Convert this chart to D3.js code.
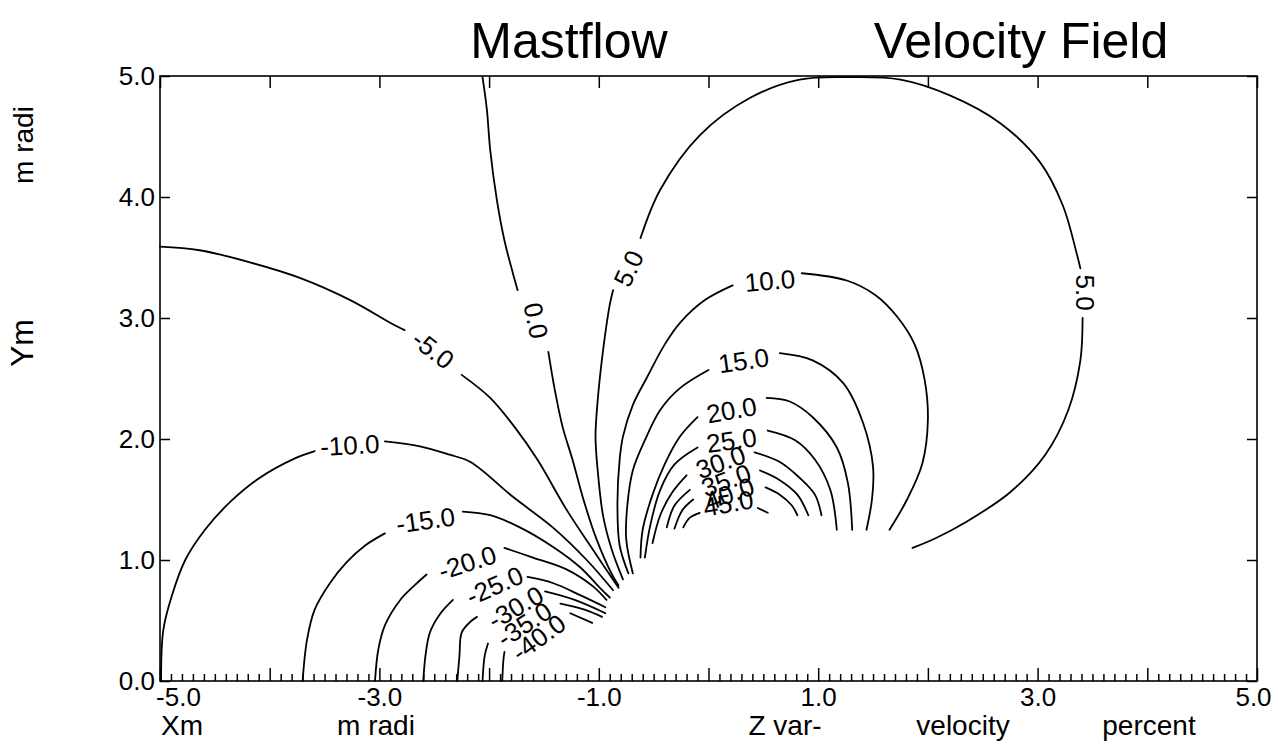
<!DOCTYPE html>
<html><head><meta charset="utf-8">
<script src="https://cdn.jsdelivr.net/npm/d3@7"></script>
<style>
html,body{margin:0;padding:0;background:#fff;}
svg{display:block;}
text{font-family:"Liberation Sans",Arial,Helvetica,sans-serif;fill:#000;}
</style>
</head><body>
<svg id="chart" width="1278" height="744"></svg>
<script>
// ---------- data ----------
const xTicks = [-5,-4,-3,-2,-1,0,1,2,3,4,5];
const xTickLabels = [-5,-3,-1,1,3,5];
const yTicks = [0,1,2,3,4,5];
const titleLeft = "Mastflow";
const titleRight = "Velocity Field";
const xTitles = ["Xm","m radi","Z var-","velocity","percent"];
const yTitles = ["m radi","Ym"];
const levels = [-40,-35,-30,-25,-20,-15,-10,-5,0,5,10,15,20,25,30,35,40,45];

// each contour: list of pieces (broken where labels sit), points in [Xm, Ym]
const contourM40 = [[[-1.88,0],[-1.87,0.17],[-1.86,0.24]],
                    [[-1.26,0.56],[-1.06,0.48]]];
const contourM35 = [[[-2.06,0],[-2.04,0.21],[-2.01,0.31]],
                    [[-1.35,0.64],[-1.13,0.59],[-0.97,0.53]]];
const contourM30 = [[[-2.29,0],[-2.27,0.21],[-2.25,0.40],[-2.17,0.49],[-2.11,0.53]],
                    [[-1.49,0.74],[-1.22,0.67],[-0.94,0.56]]];
const contourM25 = [[[-2.60,0],[-2.58,0.21],[-2.54,0.40],[-2.45,0.55],[-2.33,0.67]],
                    [[-1.65,0.86],[-1.42,0.81],[-1.17,0.71],[-0.94,0.61]]];
const contourM20 = [[[-3.04,0],[-3.01,0.26],[-2.95,0.46],[-2.81,0.67],[-2.68,0.79],[-2.57,0.88]],
                    [[-1.86,1.10],[-1.60,1.02],[-1.29,0.92],[-1.05,0.78],[-0.93,0.67]]];
const contourM15 = [[[-3.70,0],[-3.66,0.34],[-3.59,0.59],[-3.45,0.81],[-3.30,0.98],[-3.13,1.12],[-2.95,1.22]],
                    [[-2.24,1.40],[-1.99,1.37],[-1.72,1.27],[-1.42,1.11],[-1.17,0.94],[-0.99,0.77],[-0.90,0.69]]];
const contourM10 = [[[-4.99,0],[-4.97,0.42],[-4.89,0.71],[-4.77,1.00],[-4.59,1.25],[-4.36,1.48],[-4.09,1.68],[-3.77,1.84],[-3.59,1.90]],
                    [[-2.95,1.98],[-2.63,1.94],[-2.36,1.87],[-2.17,1.81],[-1.78,1.52],[-1.42,1.27],[-1.11,1.00],[-0.87,0.75]]];
const contourM5  = [[[-5.0,3.59],[-4.64,3.56],[-4.18,3.46],[-3.72,3.33],[-3.27,3.15],[-2.86,2.94],[-2.77,2.90]],
                    [[-2.25,2.53],[-1.99,2.34],[-1.76,2.09],[-1.56,1.83],[-1.29,1.41],[-1.05,1.08],[-0.82,0.77]]];
const contour0   = [[[-2.06,4.99],[-2.02,4.72],[-1.99,4.39],[-1.93,3.98],[-1.86,3.64],[-1.78,3.36],[-1.74,3.23]],
                    [[-1.46,2.72],[-1.40,2.40],[-1.33,2.10],[-1.24,1.83],[-1.14,1.50],[-1.02,1.17],[-0.88,0.88],[-0.82,0.79]]];
const contour5   = [[[-0.78,0.84],[-0.88,1.08],[-0.96,1.36],[-1.01,1.74],[-1.03,2.02],[-1.01,2.32],[-0.96,2.74],[-0.90,3.11],[-0.87,3.23]],
                    [[-0.62,3.66],[-0.44,4.06],[-0.08,4.51],[0.38,4.82],[0.83,4.97],[1.29,4.99],[1.75,4.97],[2.20,4.84],[2.66,4.61],[3.02,4.29],[3.23,3.93],[3.36,3.52],[3.39,3.41]],
                    [[3.41,3.00],[3.39,2.65],[3.28,2.24],[3.07,1.87],[2.75,1.56],[2.34,1.31],[2.07,1.18],[1.86,1.10]]];
const contour10  = [[[-0.73,0.89],[-0.81,1.12],[-0.83,1.47],[-0.81,1.83],[-0.78,2.02],[-0.69,2.28],[-0.56,2.51],[-0.40,2.78],[-0.26,2.96],[-0.03,3.15],[0.22,3.27]],
                    [[0.85,3.37],[1.26,3.31],[1.52,3.19],[1.72,3.01],[1.88,2.78],[1.97,2.49],[2.00,2.16],[1.95,1.80],[1.81,1.50],[1.65,1.25]]];
const contour15  = [[[-0.69,0.89],[-0.75,1.17],[-0.74,1.45],[-0.69,1.74],[-0.58,1.99],[-0.44,2.24],[-0.26,2.42],[0.00,2.57]],
                    [[0.65,2.71],[0.95,2.65],[1.23,2.46],[1.41,2.13],[1.50,1.77],[1.49,1.50],[1.44,1.25]]];
const contour20  = [[[-0.62,1.02],[-0.60,1.25],[-0.51,1.54],[-0.40,1.79],[-0.26,2.02],[-0.10,2.18]],
                    [[0.53,2.34],[0.74,2.31],[0.95,2.18],[1.17,1.93],[1.27,1.64],[1.31,1.25]]];
const contour25  = [[[-0.58,1.02],[-0.53,1.29],[-0.44,1.58],[-0.31,1.79],[-0.10,1.93]],
                    [[0.54,2.07],[0.79,1.99],[0.97,1.83],[1.11,1.58],[1.17,1.25]]];
const contour30  = [[[-0.51,1.14],[-0.44,1.37],[-0.33,1.56],[-0.20,1.70]],
                    [[0.42,1.89],[0.65,1.81],[0.83,1.68],[0.97,1.54],[1.03,1.37]]];
const contour35  = [[[-0.38,1.27],[-0.31,1.45],[-0.17,1.58]],
                    [[0.47,1.74],[0.65,1.66],[0.81,1.54],[0.91,1.37]]];
const contour40  = [[[-0.31,1.26],[-0.24,1.41],[-0.14,1.50]],
                    [[0.52,1.60],[0.65,1.54],[0.76,1.45],[0.81,1.37]]];
const contour45  = [[[-0.23,1.27],[-0.17,1.35],[-0.08,1.39]],
                    [[0.45,1.43],[0.54,1.39]]];

// contour labels: [level, Xm, Ym]
const contourLabels = [
  [-40,-1.55,0.36],[-35,-1.68,0.47],[-30,-1.76,0.61],[-25,-1.95,0.79],
  [-20,-2.20,0.98],[-15,-2.58,1.33],[-10,-3.27,1.95],[-5,-2.51,2.74],
  [0,-1.57,2.98],[5,-0.73,3.41],[5,3.44,3.21],[10,0.56,3.31],[15,0.32,2.65],
  [20,0.21,2.24],[25,0.21,1.99],[30,0.11,1.81],[35,0.16,1.66],[40,0.19,1.55],[45,0.18,1.47]
];

// ---------- drawing ----------
const contours = [contourM40,contourM35,contourM30,contourM25,contourM20,contourM15,contourM10,contourM5,
                  contour0,contour5,contour10,contour15,contour20,contour25,contour30,contour35,contour40,contour45];
const labelAngles = [-36,-33,-30,-24,-18,-8,-3,38,78,-65,90,-5,-8,-10,-8,-20,-20,-20,-10];

const svg = d3.select("#chart");
const x = d3.scaleLinear().domain([-5,5]).range([160,1257]);
const y = d3.scaleLinear().domain([0,5]).range([681,76]);
const fmt = d => d.toFixed(1);

// titles
svg.append("text").attr("x",569).attr("y",58).attr("text-anchor","middle")
  .style("font-size","50px").text(titleLeft);
svg.append("text").attr("x",1021).attr("y",58).attr("text-anchor","middle")
  .style("font-size","50px").text(titleRight);

// contour lines
const line = d3.line().x(d=>x(d[0])).y(d=>y(d[1])).curve(d3.curveCatmullRom.alpha(0.5));
const gC = svg.append("g").attr("fill","none").attr("stroke","#000").attr("stroke-width",1.8)
  .attr("stroke-linejoin","round").attr("stroke-linecap","round");
contours.forEach((pieces,i)=>{
  gC.selectAll(null).data(pieces).join("path").attr("class","lvl"+levels[i]).attr("d",line);
});

// contour labels
svg.append("g").selectAll("text").data(contourLabels).join("text")
  .attr("transform",(d,i)=>`translate(${x(d[1])},${y(d[2])}) rotate(${labelAngles[i]})`)
  .attr("text-anchor","middle").attr("dy","0.36em")
  .style("font-size","26px").text(d=>fmt(d[0]));

// axes
function styleAxis(g){
  g.select(".domain").remove();
  g.selectAll(".tick line").attr("stroke","#000").attr("stroke-width",1.5);
  g.selectAll("text").style("font-size","26px").attr("font-family",null);
}
const gMinor = svg.append("g").attr("transform",`translate(0,${y(0)})`)
  .call(d3.axisBottom(x).tickValues(d3.range(-49,50).filter(i=>i%10!==0).map(i=>i/10))
        .tickSize(-7).tickFormat(""));
styleAxis(gMinor);
const gBottom = svg.append("g").attr("transform",`translate(0,${y(0)})`)
  .call(d3.axisBottom(x).tickValues(xTicks).tickSize(-13).tickPadding(7)
        .tickFormat(d=>xTickLabels.includes(d)?fmt(d):""));
styleAxis(gBottom);
gBottom.selectAll(".tick text").attr("dx",d=>d===-5?18:(d===5?-4:0));

const gTop = svg.append("g").attr("transform",`translate(0,${y(5)})`)
  .call(d3.axisTop(x).tickValues(xTicks).tickSize(-12).tickFormat(""));
styleAxis(gTop);
const gLeft = svg.append("g").attr("transform",`translate(${x(-5)},0)`)
  .call(d3.axisLeft(y).tickValues(yTicks).tickSize(-10).tickPadding(5).tickFormat(fmt));
styleAxis(gLeft);
const gRight = svg.append("g").attr("transform",`translate(${x(5)},0)`)
  .call(d3.axisRight(y).tickValues(yTicks).tickSize(-10).tickFormat(""));
styleAxis(gRight);

// frame
svg.append("rect").attr("x",x(-5)).attr("y",y(5)).attr("width",x(5)-x(-5)).attr("height",y(0)-y(5))
  .attr("fill","none").attr("stroke","#000").attr("stroke-width",1.6);

// axis titles
const xTitlePos = [182,376,785,963,1149];
svg.append("g").selectAll("text").data(xTitles).join("text")
  .attr("x",(d,i)=>xTitlePos[i]).attr("y",735).attr("text-anchor","middle")
  .style("font-size","28px").text(d=>d);
const yTitlePos = [145,343];
svg.append("g").selectAll("text").data(yTitles).join("text")
  .attr("transform",(d,i)=>`translate(33,${yTitlePos[i]}) rotate(-90)`)
  .attr("text-anchor","middle").style("font-size",(d,i)=>i===1?"32px":"28px").text(d=>d);
</script>
</body></html>
